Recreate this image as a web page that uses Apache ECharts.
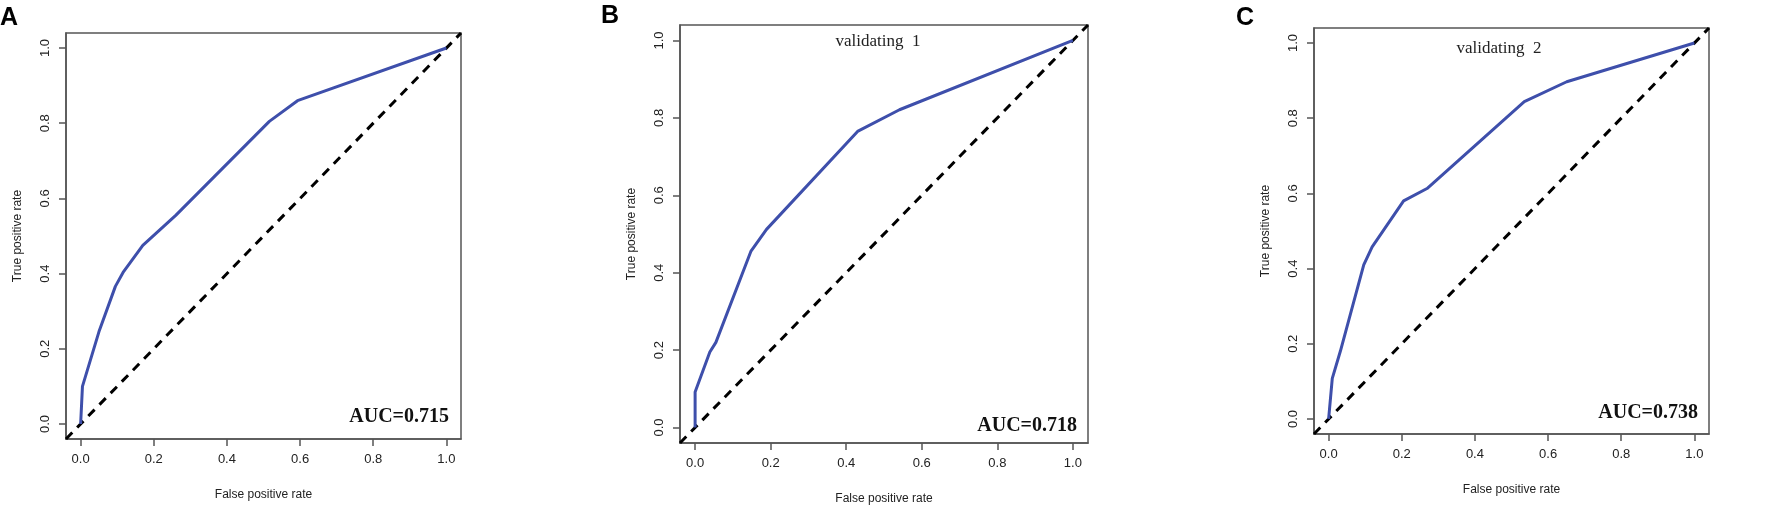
<!DOCTYPE html>
<html>
<head>
<meta charset="utf-8">
<title>ROC curves</title>
<script src="https://cdn.jsdelivr.net/npm/echarts@6.0.0/dist/echarts.min.js"></script>
<style>
  html, body { margin: 0; padding: 0; background: #fff; }
  #chart { width: 1787px; height: 510px; }
</style>
</head>
<body>
<div id="chart"></div>
<script>
// ROC points (false positive rate / true positive rate)
const fprA = [0, 0.005, 0.05, 0.095, 0.116, 0.170, 0.26, 0.516, 0.593, 1];
const tprA = [0, 0.10, 0.245, 0.366, 0.403, 0.475, 0.555, 0.805, 0.86, 1];

const fprB = [0, 0, 0.039, 0.055, 0.148, 0.189, 0.43, 0.541, 1];
const tprB = [0, 0.092, 0.195, 0.22, 0.456, 0.512, 0.765, 0.821, 1];

const fprC = [0, 0.010, 0.032, 0.096, 0.119, 0.205, 0.269, 0.535, 0.651, 1];
const tprC = [0, 0.108, 0.18, 0.41, 0.458, 0.58, 0.613, 0.844, 0.897, 1];

const ticks = [0, 0.2, 0.4, 0.6, 0.8, 1.0];
const diag = [-0.04, 1.04];

const letters = ['A', 'B', 'C'];
const subtitles = ['', 'validating  1', 'validating  2'];
const aucs = ['AUC=0.715', 'AUC=0.718', 'AUC=0.738'];

// panel boxes in pixels
const boxes = [
  { left: 66, top: 33, width: 395, height: 406 },
  { left: 680, top: 25, width: 408, height: 419 },
  { left: 1314, top: 28, width: 395, height: 406 }
];

const myChart = echarts.init(document.getElementById('chart'));

const grid = [], xAxis = [], yAxis = [], series = [], graphic = [];
const curves = [[fprA, tprA], [fprB, tprB], [fprC, tprC]];

const tickLabel = v => v.toFixed(1);

boxes.forEach((b, i) => {
  grid.push({
    left: b.left, top: b.top, width: b.width, height: b.height,
    show: true, borderColor: '#555', borderWidth: 1.5, backgroundColor: 'transparent'
  });
  xAxis.push({
    type: 'value', gridIndex: i, min: -0.04, max: 1.04,
    name: 'False positive rate', nameLocation: 'middle', nameGap: 50,
    nameTextStyle: { fontFamily: 'Liberation Sans', fontSize: 12, color: '#222' },
    axisLine: { show: true, onZero: false, lineStyle: { color: '#555', width: 1.5 } },
    axisTick: { show: true, length: 7, customValues: ticks, lineStyle: { color: '#555', width: 1.5 } },
    axisLabel: { customValues: ticks, formatter: tickLabel, margin: 14,
      fontFamily: 'Liberation Sans', fontSize: 13, color: '#222' },
    splitLine: { show: false }
  });
  yAxis.push({
    type: 'value', gridIndex: i, min: -0.04, max: 1.04,
    name: 'True positive rate', nameLocation: 'middle', nameGap: 42,
    nameTextStyle: { fontFamily: 'Liberation Sans', fontSize: 12, color: '#222' },
    axisLine: { show: true, onZero: false, lineStyle: { color: '#555', width: 1.5 } },
    axisTick: { show: true, length: 7, customValues: ticks, lineStyle: { color: '#555', width: 1.5 } },
    axisLabel: { customValues: ticks, formatter: tickLabel, rotate: 90, margin: 14,
      fontFamily: 'Liberation Sans', fontSize: 13, color: '#222' },
    splitLine: { show: false }
  });
  // reference diagonal
  series.push({
    type: 'line', xAxisIndex: i, yAxisIndex: i, symbol: 'none', silent: true,
    data: [[diag[0], diag[0]], [diag[1], diag[1]]],
    lineStyle: { color: '#000', width: 3, type: [9, 7] }
  });
  // ROC curve
  const [fpr, tpr] = curves[i];
  series.push({
    type: 'line', xAxisIndex: i, yAxisIndex: i, symbol: 'none', silent: true,
    data: fpr.map((x, k) => [x, tpr[k]]),
    lineStyle: { color: '#3e4fab', width: 3 }
  });
});

// panel letters
[[0, 6], [601, 4], [1236, 6]].forEach((p, i) => {
  graphic.push({ type: 'text', left: p[0], top: p[1],
    style: { text: letters[i], fontFamily: 'Liberation Sans', fontWeight: 'bold', fontSize: 25, fill: '#000' } });
});
// subtitles
[[878, 42], [1499, 49]].forEach((p, i) => {
  graphic.push({ type: 'text', x: p[0], y: p[1],
    style: { text: subtitles[i + 1], fontFamily: 'Liberation Serif', fontSize: 17, fill: '#222',
      align: 'center', verticalAlign: 'middle' } });
});
// AUC labels
[[449, 417], [1077, 426], [1698, 413]].forEach((p, i) => {
  graphic.push({ type: 'text', x: p[0], y: p[1],
    style: { text: aucs[i], fontFamily: 'Liberation Serif', fontWeight: 'bold', fontSize: 20, fill: '#111',
      align: 'right', verticalAlign: 'middle' } });
});

const option = {
  animation: false,
  backgroundColor: '#fff',
  grid, xAxis, yAxis, series, graphic
};
myChart.setOption(option);
</script>
</body>
</html>
